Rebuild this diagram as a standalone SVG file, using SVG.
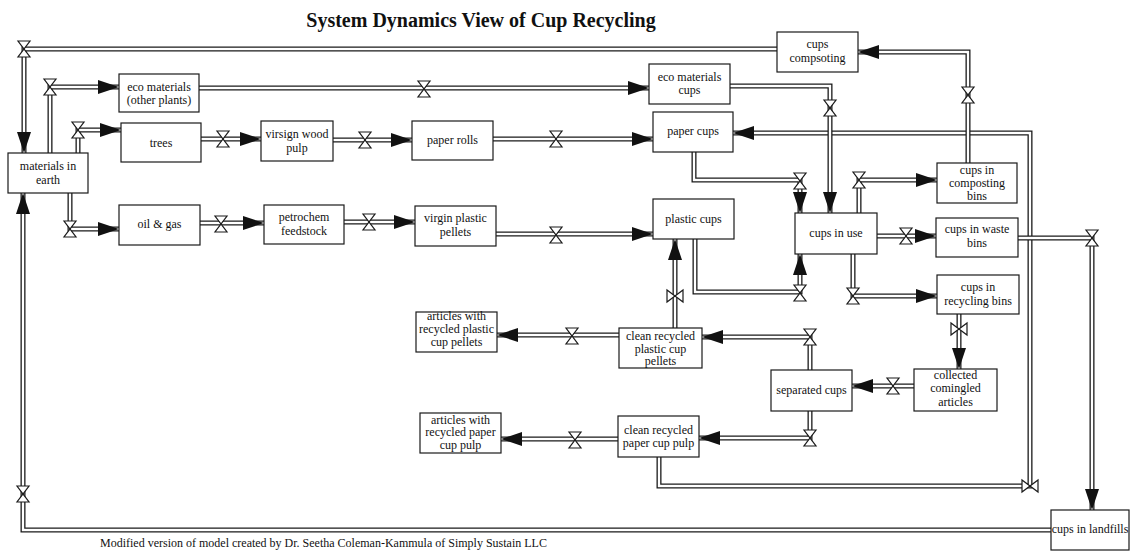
<svg xmlns="http://www.w3.org/2000/svg" xmlns:xlink="http://www.w3.org/1999/xlink" width="1130" height="560" viewBox="0 0 1130 560">
  <style>
    .box { fill: #fff; stroke: #1a1a1a; stroke-width: 1.2; }
    .lbl { font-family: "Liberation Serif", "Times New Roman", serif; font-size: 12px; fill: #111; text-anchor: middle; }
    .title { font-family: "Liberation Serif", "Times New Roman", serif; font-size: 20px; font-weight: bold; fill: #111; text-anchor: middle; }
    .foot { font-family: "Liberation Serif", "Times New Roman", serif; font-size: 12px; fill: #111; }
    .po { fill: none; stroke: #1a1a1a; stroke-width: 5; stroke-linejoin: miter; }
    .pi { fill: none; stroke: #fff; stroke-width: 2.4; stroke-linejoin: miter; }
    .arrow { fill: #111; stroke: none; }
    .valve { fill: #fff; stroke: #1a1a1a; stroke-width: 1.2; stroke-linejoin: miter; }
  </style>
  <defs>
    <!-- arrowhead pointing right, tip at origin -->
    <polygon id="arr" class="arrow" points="-21,-7 0,0 -21,7"/>
    <!-- flow valve, hourglass (apexes meet vertically) -->
    <path id="vH" class="valve" d="M-6,-8 H6 L-6,8 H6 Z"/>
    <!-- flow valve, bowtie (apexes meet horizontally) -->
    <path id="vB" class="valve" d="M-8,-6 V6 L8,-6 V6 Z"/>

    <!-- pipe geometry -->
    <path id="p1" d="M777,49 H24 V153"/>
    <path id="p2" d="M50,153 V87 H119"/>
    <path id="p3" d="M78,153 V130 H121"/>
    <path id="p4" d="M70,193 V229 H119"/>
    <path id="p5" d="M1051,530 H23 V193"/>
    <path id="p6" d="M201,139 H261"/>
    <path id="p7" d="M333,140 H412"/>
    <path id="p8" d="M493,139 H653"/>
    <path id="p9" d="M199,88 H649"/>
    <path id="p10" d="M730,86 H830 V213"/>
    <path id="p11" d="M659,457 V486 H1030 V133 H733"/>
    <path id="p12" d="M694,152 V180 H800 V213"/>
    <path id="p13" d="M695,239 V292 H800 V254"/>
    <path id="p14" d="M859,213 V180 H937"/>
    <path id="p15" d="M877,236 H936"/>
    <path id="p16" d="M853,254 V296 H937"/>
    <path id="p17" d="M968,163 V52 H858"/>
    <path id="p18" d="M1018,238 H1092 V510"/>
    <path id="p19" d="M959,314 V369"/>
    <path id="p20" d="M914,386 H852"/>
    <path id="p21" d="M810,370 V337 H702"/>
    <path id="p22" d="M810,411 V438 H699"/>
    <path id="p23" d="M619,335 H497"/>
    <path id="p24" d="M675,328 V239"/>
    <path id="p25" d="M618,439 H501"/>
    <path id="p26" d="M496,234 H653"/>
    <path id="p27" d="M200,223 H264"/>
    <path id="p28" d="M344,222 H415"/>
  </defs>

  <rect width="1130" height="560" fill="#fff"/>

  <text class="title" x="481" y="27">System Dynamics View of Cup Recycling</text>

  <g id="connectors">
    <!-- double-walled flow pipes -->
    <use href="#p1" class="po"/><use href="#p1" class="pi"/>
    <use href="#p5" class="po"/><use href="#p5" class="pi"/>
    <use href="#p2" class="po"/><use href="#p2" class="pi"/>
    <use href="#p3" class="po"/><use href="#p3" class="pi"/>
    <use href="#p4" class="po"/><use href="#p4" class="pi"/>
    <use href="#p6" class="po"/><use href="#p6" class="pi"/>
    <use href="#p7" class="po"/><use href="#p7" class="pi"/>
    <use href="#p8" class="po"/><use href="#p8" class="pi"/>
    <use href="#p9" class="po"/><use href="#p9" class="pi"/>
    <use href="#p11" class="po"/><use href="#p11" class="pi"/>
    <use href="#p10" class="po"/><use href="#p10" class="pi"/>
    <use href="#p17" class="po"/><use href="#p17" class="pi"/>
    <use href="#p12" class="po"/><use href="#p12" class="pi"/>
    <use href="#p13" class="po"/><use href="#p13" class="pi"/>
    <use href="#p14" class="po"/><use href="#p14" class="pi"/>
    <use href="#p15" class="po"/><use href="#p15" class="pi"/>
    <use href="#p16" class="po"/><use href="#p16" class="pi"/>
    <use href="#p18" class="po"/><use href="#p18" class="pi"/>
    <use href="#p19" class="po"/><use href="#p19" class="pi"/>
    <use href="#p20" class="po"/><use href="#p20" class="pi"/>
    <use href="#p21" class="po"/><use href="#p21" class="pi"/>
    <use href="#p22" class="po"/><use href="#p22" class="pi"/>
    <use href="#p23" class="po"/><use href="#p23" class="pi"/>
    <use href="#p24" class="po"/><use href="#p24" class="pi"/>
    <use href="#p25" class="po"/><use href="#p25" class="pi"/>
    <use href="#p26" class="po"/><use href="#p26" class="pi"/>
    <use href="#p27" class="po"/><use href="#p27" class="pi"/>
    <use href="#p28" class="po"/><use href="#p28" class="pi"/>

    <!-- valves -->
    <use href="#vH" transform="translate(24,49)"/>
    <use href="#vH" transform="translate(50,87)"/>
    <use href="#vH" transform="translate(78,130)"/>
    <use href="#vH" transform="translate(70,229)"/>
    <use href="#vH" transform="translate(23,494)"/>
    <use href="#vH" transform="translate(223,139)"/>
    <use href="#vH" transform="translate(365,140)"/>
    <use href="#vH" transform="translate(556,139)"/>
    <use href="#vH" transform="translate(424,89)"/>
    <use href="#vH" transform="translate(830,108)"/>
    <use href="#vB" transform="translate(1030,486)"/>
    <use href="#vH" transform="translate(800,181)"/>
    <use href="#vH" transform="translate(800,293)"/>
    <use href="#vH" transform="translate(859,180)"/>
    <use href="#vH" transform="translate(906,236)"/>
    <use href="#vH" transform="translate(853,296)"/>
    <use href="#vH" transform="translate(968,95)"/>
    <use href="#vH" transform="translate(1092,238)"/>
    <use href="#vB" transform="translate(959,329)"/>
    <use href="#vH" transform="translate(893,386)"/>
    <use href="#vH" transform="translate(810,337)"/>
    <use href="#vH" transform="translate(810,438)"/>
    <use href="#vH" transform="translate(572,336)"/>
    <use href="#vB" transform="translate(675,296)"/>
    <use href="#vH" transform="translate(575,440)"/>
    <use href="#vH" transform="translate(556,235)"/>
    <use href="#vH" transform="translate(221,224)"/>
    <use href="#vH" transform="translate(369,222)"/>

    <!-- arrowheads -->
    <use href="#arr" transform="translate(24,153) rotate(90)"/>
    <use href="#arr" transform="translate(119,87)"/>
    <use href="#arr" transform="translate(121,130)"/>
    <use href="#arr" transform="translate(119,229)"/>
    <use href="#arr" transform="translate(23,193) rotate(-90)"/>
    <use href="#arr" transform="translate(261,139)"/>
    <use href="#arr" transform="translate(412,140)"/>
    <use href="#arr" transform="translate(653,139)"/>
    <use href="#arr" transform="translate(649,88)"/>
    <use href="#arr" transform="translate(830,213) rotate(90)"/>
    <use href="#arr" transform="translate(733,133) rotate(180)"/>
    <use href="#arr" transform="translate(800,213) rotate(90)"/>
    <use href="#arr" transform="translate(800,254) rotate(-90)"/>
    <use href="#arr" transform="translate(937,180)"/>
    <use href="#arr" transform="translate(936,236)"/>
    <use href="#arr" transform="translate(937,296)"/>
    <use href="#arr" transform="translate(858,52) rotate(180)"/>
    <use href="#arr" transform="translate(1092,510) rotate(90)"/>
    <use href="#arr" transform="translate(959,369) rotate(90)"/>
    <use href="#arr" transform="translate(852,386) rotate(180)"/>
    <use href="#arr" transform="translate(702,337) rotate(180)"/>
    <use href="#arr" transform="translate(699,438) rotate(180)"/>
    <use href="#arr" transform="translate(497,335) rotate(180)"/>
    <use href="#arr" transform="translate(675,239) rotate(-90)"/>
    <use href="#arr" transform="translate(501,439) rotate(180)"/>
    <use href="#arr" transform="translate(653,234)"/>
    <use href="#arr" transform="translate(264,223)"/>
    <use href="#arr" transform="translate(415,222)"/>
  </g>

  <g id="materials-in-earth">
    <rect class="box" x="8" y="153" width="80" height="40"/>
    <text class="lbl" x="48" y="170">materials in</text>
    <text class="lbl" x="48" y="184">earth</text>
  </g>
  <g id="eco-materials-plants">
    <rect class="box" x="119" y="74" width="80" height="38"/>
    <text class="lbl" x="159" y="91">eco materials</text>
    <text class="lbl" x="159" y="104">(other plants)</text>
  </g>
  <g id="trees">
    <rect class="box" x="121" y="123" width="80" height="39"/>
    <text class="lbl" x="161" y="147">trees</text>
  </g>
  <g id="wood-pulp">
    <rect class="box" x="261" y="121" width="72" height="40"/>
    <text class="lbl" x="297" y="138">virsign wood</text>
    <text class="lbl" x="297" y="152">pulp</text>
  </g>
  <g id="paper-rolls">
    <rect class="box" x="412" y="121" width="81" height="39"/>
    <text class="lbl" x="452.5" y="144">paper rolls</text>
  </g>
  <g id="eco-materials-cups">
    <rect class="box" x="649" y="64" width="81" height="40"/>
    <text class="lbl" x="689.5" y="81">eco materials</text>
    <text class="lbl" x="689.5" y="94">cups</text>
  </g>
  <g id="paper-cups">
    <rect class="box" x="653" y="112" width="80" height="40"/>
    <text class="lbl" x="693" y="135">paper cups</text>
  </g>
  <g id="cups-composting">
    <rect class="box" x="777" y="32" width="81" height="40"/>
    <text class="lbl" x="817.5" y="48">cups</text>
    <text class="lbl" x="817.5" y="62">compsoting</text>
  </g>
  <g id="cups-in-composting-bins">
    <rect class="box" x="937" y="163" width="80" height="40"/>
    <text class="lbl" x="977" y="174">cups in</text>
    <text class="lbl" x="977" y="187">composting</text>
    <text class="lbl" x="977" y="200">bins</text>
  </g>
  <g id="oil-gas">
    <rect class="box" x="119" y="205" width="81" height="40"/>
    <text class="lbl" x="159.5" y="228">oil &amp; gas</text>
  </g>
  <g id="petrochem-feedstock">
    <rect class="box" x="264" y="205" width="80" height="39"/>
    <text class="lbl" x="304" y="221">petrochem</text>
    <text class="lbl" x="304" y="235">feedstock</text>
  </g>
  <g id="virgin-plastic-pellets">
    <rect class="box" x="415" y="206" width="81" height="40"/>
    <text class="lbl" x="455.5" y="222">virgin plastic</text>
    <text class="lbl" x="455.5" y="236">pellets</text>
  </g>
  <g id="plastic-cups">
    <rect class="box" x="653" y="199" width="81" height="40"/>
    <text class="lbl" x="693.5" y="223">plastic cups</text>
  </g>
  <g id="articles-plastic">
    <rect class="box" x="416" y="312" width="81" height="40"/>
    <text class="lbl" x="456.5" y="320">articles with</text>
    <text class="lbl" x="456.5" y="333">recycled plastic</text>
    <text class="lbl" x="456.5" y="346">cup pellets</text>
  </g>
  <g id="clean-plastic-pellets">
    <rect class="box" x="619" y="328" width="83" height="40"/>
    <text class="lbl" x="660.5" y="340">clean recycled</text>
    <text class="lbl" x="660.5" y="353">plastic cup</text>
    <text class="lbl" x="660.5" y="365">pellets</text>
  </g>
  <g id="cups-in-use">
    <rect class="box" x="795" y="213" width="82" height="41"/>
    <text class="lbl" x="836" y="237">cups in use</text>
  </g>
  <g id="cups-in-waste-bins">
    <rect class="box" x="936" y="218" width="82" height="39"/>
    <text class="lbl" x="977" y="233">cups in waste</text>
    <text class="lbl" x="977" y="247">bins</text>
  </g>
  <g id="cups-in-recycling-bins">
    <rect class="box" x="937" y="275" width="82" height="39"/>
    <text class="lbl" x="978" y="291">cups in</text>
    <text class="lbl" x="978" y="305">recycling bins</text>
  </g>
  <g id="collected-comingled">
    <rect class="box" x="914" y="369" width="83" height="42"/>
    <text class="lbl" x="955.5" y="379">collected</text>
    <text class="lbl" x="955.5" y="392">comingled</text>
    <text class="lbl" x="955.5" y="406">articles</text>
  </g>
  <g id="separated-cups">
    <rect class="box" x="771" y="370" width="81" height="41"/>
    <text class="lbl" x="811.5" y="394">separated cups</text>
  </g>
  <g id="clean-paper-pulp">
    <rect class="box" x="618" y="416" width="81" height="41"/>
    <text class="lbl" x="658.5" y="434">clean recycled</text>
    <text class="lbl" x="658.5" y="447">paper cup pulp</text>
  </g>
  <g id="articles-paper">
    <rect class="box" x="420" y="413" width="81" height="40"/>
    <text class="lbl" x="460.5" y="424">articles with</text>
    <text class="lbl" x="460.5" y="436">recycled paper</text>
    <text class="lbl" x="460.5" y="449">cup pulp</text>
  </g>
  <g id="cups-in-landfills">
    <rect class="box" x="1051" y="510" width="78" height="40"/>
    <text class="lbl" x="1090" y="533">cups in landfills</text>
  </g>

  <text class="foot" x="100" y="547">Modified version of model created by Dr. Seetha Coleman-Kammula of Simply Sustain LLC</text>
</svg>
